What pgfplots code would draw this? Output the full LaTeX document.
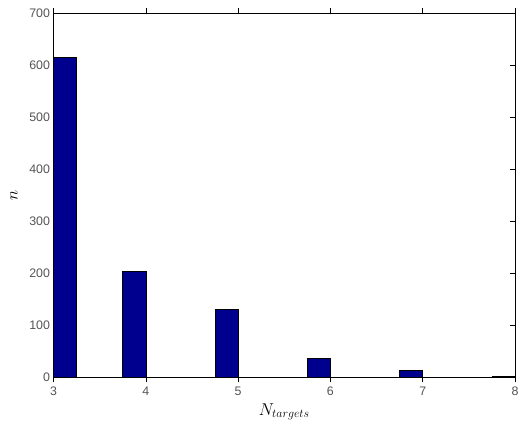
\documentclass[border=0pt]{standalone}
\usepackage{pgfplots}
\pgfplotsset{compat=1.18}
\usepackage{fontspec}
\setmainfont{Liberation Sans}
\definecolor{barblue}{rgb}{0,0,0.5625}
\definecolor{ticktext}{rgb}{0.33,0.33,0.33}
\begin{document}
\begin{tikzpicture}
\path[use as bounding box] (-54pt,-49pt) rectangle (471pt,381pt);
\begin{axis}[
  at={(0,0)}, anchor=south west,
  scale only axis,
  width=466pt, height=368pt,
  xmin=3, xmax=8, ymin=0, ymax=700,
  xtick={3,4,5,6,7,8},
  ytick={0,100,...,700},
  tick align=inside,
  major tick length=5pt,
  tick style={black, line width=0.5pt},
  axis line style={line width=0.6pt},
  /pgf/number format/assume math mode=true,
  tick label style={font=\fontsize{12.5}{14}\selectfont, text=ticktext},
  xticklabel style={yshift=-1pt},
  xlabel={\fontsize{17}{19}\selectfont $N_{targets}$},
  ylabel={\fontsize{17}{19}\selectfont $n$},
  xlabel style={yshift=-1pt},
  ylabel style={yshift=5pt},
  ybar, bar width=0.25,
  clip=false,
]
\addplot[fill=barblue, draw=black, line width=0.5pt] coordinates {
  (3.125,615) (3.875,203) (4.875,131) (5.875,37) (6.875,13) (7.875,2)
};
\end{axis}
\end{tikzpicture}
\end{document}
